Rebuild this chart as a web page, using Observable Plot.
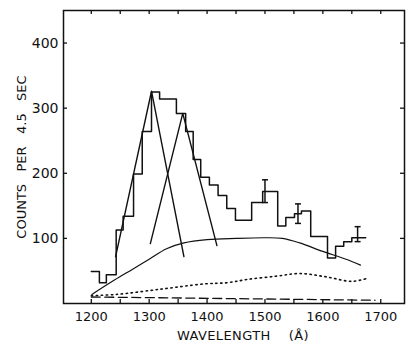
<!DOCTYPE html>
<html><head><meta charset="utf-8">
<script src="https://cdn.jsdelivr.net/npm/d3@7"></script>
<script src="https://cdn.jsdelivr.net/npm/@observablehq/plot@0.6"></script>
<style>
html,body{margin:0;padding:0;background:#fff;}
svg text{white-space:pre;}
</style></head><body><div id="chart"></div>
<script>
// Histogram bin edges (Å) and counts per 4.5 sec
const binEdges = [1200,1214,1226,1243,1255,1273,1288,1304,1318,1347,1363,1376,1389,1404,1419,1434,1449,1477,1496,1522,1536,1551,1563,1579,1608,1622,1636,1650,1660,1674];
const binCounts = [49,32,44,113,134,199,264,325,314,292,264,221,194,182,166,146,128,155,172,119,132,138,142,103,70,88,95,101,101];

// Error bars
const errWave = [1500,1557,1660];
const errLow  = [155,123,95];
const errHigh = [190,153,118];

// Fitted line profiles (triangles)
const fit1Wave = [1242,1304,1360];
const fit1Count = [72,326,72];
const fit2Wave = [1302,1358,1417];
const fit2Count = [92,292,89];

// Smooth solid continuum
const contWave  = [1201,1240,1270,1300,1330,1360,1400,1450,1500,1530,1560,1600,1640,1665];
const contCount = [14,36,52,68,84,93,98,100,101,100,93,80,68,59];

// Dotted curve
const dotWave  = [1200,1244,1320,1394,1435,1470,1520,1560,1605,1650,1674];
const dotCount = [12,14,22,30,32,37,42,46,41,34,38];

// Dashed line
const dashWave  = [1200,1690];
const dashCount = [10,5];

// Ticks
const xLabelTicks = [1200,1300,1400,1500,1600,1700];
const xMinorTicks = [1200,1250,1300,1350,1400,1450,1500,1550,1600,1650,1700];
const yTicks = [100,200,300,400];

const W = 412, H = 346, mL = 63, mR = 8, mT = 10, mB = 43;
const frameW = W - mL - mR, frameH = H - mT - mB, tk = 4;

const hist = binEdges.map((w,i)=>({w, c: binCounts[Math.min(i, binCounts.length-1)]}));
const toPts = (ws, cs, s) => ws.map((w,i)=>({w, c: cs[i], s}));
const fits = [...toPts(fit1Wave, fit1Count, "a"), ...toPts(fit2Wave, fit2Count, "b")];
const errs = errWave.map((w,i)=>({w, lo: errLow[i], hi: errHigh[i]}));
const capSymbol = {draw(ctx, size){ const r = Math.sqrt(size/Math.PI); ctx.moveTo(-r,0); ctx.lineTo(r,0); }};
const ink = "#111";

const chart = Plot.plot({
  width: W, height: H,
  marginLeft: mL, marginRight: mR, marginTop: mT, marginBottom: mB,
  x: {domain: [1152, 1741]},
  y: {domain: [0, 450]},
  style: {fontFamily: "DejaVu Sans", fontSize: "13px", background: "#fff", color: ink},
  marks: [
    Plot.frame({stroke: ink, strokeWidth: 1.5}),
    Plot.axisY({ticks: yTicks, tickSize: 0, tickPadding: 5, fontSize: 14, label: null}),
    Plot.axisX({ticks: xLabelTicks, tickSize: 0, tickPadding: 8, tickFormat: d => String(d), fontSize: 13, label: null}),
    Plot.tickY(yTicks, {y: d => d, insetRight: frameW - tk, stroke: ink, strokeWidth: 1.3}),
    Plot.tickY(yTicks, {y: d => d, insetLeft: frameW - tk, stroke: ink, strokeWidth: 1.3}),
    Plot.tickX(xMinorTicks, {x: d => d, insetTop: frameH - tk, stroke: ink, strokeWidth: 1.3}),
    Plot.tickX(xMinorTicks, {x: d => d, insetBottom: frameH - tk, stroke: ink, strokeWidth: 1.3}),
    Plot.line(hist, {x: "w", y: "c", curve: "step-after", stroke: ink, strokeWidth: 1.5}),
    Plot.line(fits, {x: "w", y: "c", z: "s", stroke: ink, strokeWidth: 1.4}),
    Plot.line(toPts(contWave, contCount), {x: "w", y: "c", curve: "catmull-rom", stroke: ink, strokeWidth: 1.2}),
    Plot.line(toPts(dotWave, dotCount), {x: "w", y: "c", curve: "catmull-rom", stroke: ink, strokeWidth: 1.6, strokeDasharray: "1.4,3.6"}),
    Plot.line(toPts(dashWave, dashCount), {x: "w", y: "c", stroke: ink, strokeWidth: 1.3, strokeDasharray: "9,4.5"}),
    Plot.ruleX(errs, {x: "w", y1: "lo", y2: "hi", stroke: ink, strokeWidth: 1.5}),
    Plot.dot(errs, {x: "w", y: "lo", r: 3, symbol: capSymbol, stroke: ink, strokeWidth: 1.5, fill: "none"}),
    Plot.dot(errs, {x: "w", y: "hi", r: 3, symbol: capSymbol, stroke: ink, strokeWidth: 1.5, fill: "none"}),
    Plot.text(["WAVELENGTH    (Å)"], {text: d => d, frameAnchor: "bottom", textAnchor: "middle", dy: 32, dx: 9, fontSize: 13, lineAnchor: "middle"}),
    Plot.text(["COUNTS   PER   4.5   SEC"], {text: d => d, frameAnchor: "left", textAnchor: "middle", rotate: -90, dx: -42, fontSize: 13, lineAnchor: "middle"})
  ]
});
chart.querySelectorAll("text").forEach(t => { if (/WAVELENGTH/.test(t.textContent)) t.style.letterSpacing = "0.4px"; });
document.getElementById("chart").appendChild(chart);
</script></body></html>
